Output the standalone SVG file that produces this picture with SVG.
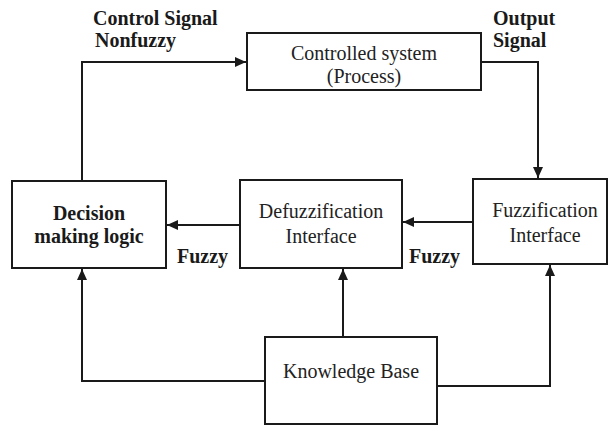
<svg xmlns="http://www.w3.org/2000/svg" width="610" height="426" viewBox="0 0 610 426">
<style>
.box{fill:#fff;stroke:#1a1a1a;stroke-width:2}
.ln{fill:none;stroke:#1a1a1a;stroke-width:2}
text{font-family:'Liberation Serif','Times New Roman',serif;font-size:20px;fill:#222}
.t{text-anchor:middle}
.b{font-weight:bold;fill:#1a1a1a}
.c{text-anchor:middle}
</style>
<defs>
<marker id="ah" markerUnits="userSpaceOnUse" markerWidth="12" markerHeight="10" refX="11" refY="5" orient="auto">
<path d="M0,0 L11,5 L0,10 Z" fill="#1a1a1a"/>
</marker>
</defs>
<rect width="610" height="426" fill="#fff"/>
<g id="connectors">
<polyline class="ln" points="82,181 82,62 246,62" marker-end="url(#ah)"/>
<polyline class="ln" points="481,62 538,62 538,178" marker-end="url(#ah)"/>
<line class="ln" x1="472" y1="222" x2="403" y2="222" marker-end="url(#ah)"/>
<line class="ln" x1="240" y1="225" x2="167" y2="225" marker-end="url(#ah)"/>
<polyline class="ln" points="265,381 82,381 82,269" marker-end="url(#ah)"/>
<line class="ln" x1="343" y1="337" x2="343" y2="269" marker-end="url(#ah)"/>
<polyline class="ln" points="437,386 550,386 550,265" marker-end="url(#ah)"/>
</g>
<g id="labels">
<text class="b" x="93" y="25">Control Signal</text>
<text class="b" x="95" y="47">Nonfuzzy</text>
<text class="b" x="493" y="25">Output</text>
<text class="b" x="493" y="47">Signal</text>
<text class="b" x="177" y="263">Fuzzy</text>
<text class="b" x="409" y="263">Fuzzy</text>
</g>
<g id="controlled">
<rect class="box" x="247" y="33" width="234" height="57"/>
<text class="t" x="364" y="60">Controlled system</text>
<text class="t" x="364" y="83">(Process)</text>
</g>
<g id="decision">
<rect class="box" x="12" y="181" width="154" height="87"/>
<text class="b c" x="89" y="220">Decision</text>
<text class="b c" x="89" y="243">making logic</text>
</g>
<g id="defuzzification">
<rect class="box" x="240" y="180" width="162" height="88"/>
<text class="t" x="321" y="218">Defuzzification</text>
<text class="t" x="321" y="243">Interface</text>
</g>
<g id="fuzzification">
<rect class="box" x="473" y="179" width="134" height="85"/>
<text class="t" x="545" y="217">Fuzzification</text>
<text class="t" x="545" y="242">Interface</text>
</g>
<g id="knowledge">
<rect class="box" x="265" y="337" width="172" height="87"/>
<text class="t" x="351" y="378">Knowledge Base</text>
</g>
</svg>
